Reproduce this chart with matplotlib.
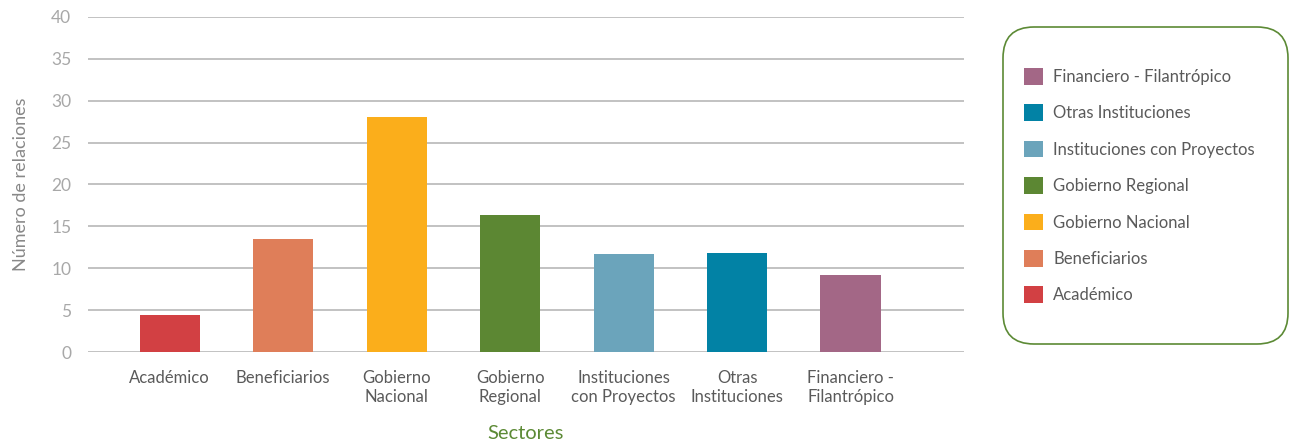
import matplotlib
matplotlib.use("Agg")
import matplotlib.pyplot as plt
from matplotlib.patches import FancyBboxPatch, Patch

categories = ["Académico", "Beneficiarios", "Gobierno\nNacional", "Gobierno\nRegional",
              "Instituciones\ncon Proyectos", "Otras\nInstituciones", "Financiero -\nFilantrópico"]
legend_labels = ["Académico", "Beneficiarios", "Gobierno Nacional", "Gobierno Regional",
                 "Instituciones con Proyectos", "Otras Instituciones", "Financiero - Filantrópico"]
values = [4.4, 13.5, 28.1, 16.4, 11.7, 11.8, 9.2]
colors = ["#d24043", "#df7e59", "#fbae1b", "#5c8733", "#6ba4bb", "#0282a5", "#a36786"]
yticks = [0, 5, 10, 15, 20, 25, 30, 35, 40]

plt.rcParams['font.family'] = ['Lato', 'DejaVu Sans']

fig = plt.figure(figsize=(12.91, 4.47), dpi=100)
ax = fig.add_axes([0.0682, 0.2125, 0.6785, 0.7495])

x = list(range(len(categories)))
bars = ax.bar(x, values, width=0.53, color=colors, zorder=3)

ax.set_ylim(0, 40)
ax.set_xlim(-0.72, 7.0)
ax.set_yticks(yticks)
ax.set_yticklabels([str(v) for v in yticks], color="#a8a8a8", fontsize=12.5)
ax.set_xticks(x)
ax.set_xticklabels(categories, color="#5a5a5a", fontsize=12, linespacing=1.25)
ax.tick_params(axis='y', length=0, pad=12)
ax.tick_params(axis='x', length=0, pad=13)
ax.grid(axis='y', color="#bdbdbd", linewidth=1.3, zorder=0)
for s in ax.spines.values():
    s.set_visible(False)

ax.set_ylabel("Número de relaciones", color="#888888", fontsize=13, labelpad=16)
ax.set_xlabel("Sectores", color="#5c8a35", fontsize=14.5, labelpad=14)

# legend box
box = FancyBboxPatch((1003/1291, 1 - 344/447), (1288 - 1003)/1291, (344 - 27)/447,
                     boxstyle="round,pad=0,rounding_size=0.024", transform=fig.transFigure,
                     facecolor="white", edgecolor="#5c8a35", linewidth=1.2,
                     mutation_aspect=1291/447)
fig.patches.append(box)

handles = [Patch(facecolor=c) for c in colors][::-1]
labs = legend_labels[::-1]
leg = fig.legend(handles, labs, loc='upper left', bbox_to_anchor=(1024/1291, 1 - 68/447),
                 frameon=False, fontsize=12, handlelength=1.15, handleheight=1.15,
                 handletextpad=0.6, labelspacing=1.17, borderpad=0, borderaxespad=0)
for t in leg.get_texts():
    t.set_color("#5a5a5a")

fig.savefig("out.png", dpi=100)
